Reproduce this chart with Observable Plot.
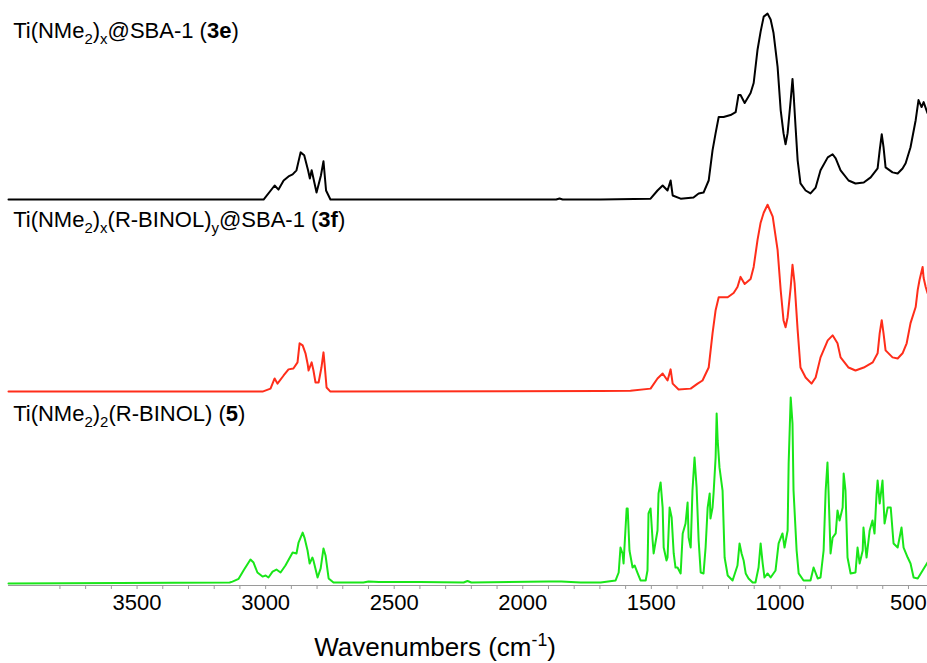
<!DOCTYPE html>
<html>
<head>
<meta charset="utf-8">
<script src="https://cdn.jsdelivr.net/npm/d3@7"></script>
<script src="https://cdn.jsdelivr.net/npm/@observablehq/plot@0.6"></script>
<style>
  html, body { margin: 0; padding: 0; background: #fff; }
  #chart { width: 927px; height: 663px; }
</style>
</head>
<body>
<div id="chart"></div>
<script>
// ---- data (wavenumber cm-1, relative intensity %) ----
const blackWn = [4000,3008,2965,2950,2930,2911,2895,2880,2864,2850,2835,2828,2821,2802,2785,2775,2765,2748,1870,1857,1845,1697,1503,1476,1456,1437,1425,1417,1386,1336,1316,1297,1277,1262,1250,1238,1219,1192,1172,1161,1153,1137,1114,1102,1087,1075,1063,1048,1036,1025,1009,997,986,978,970,958,951,947,939,931,920,900,881,861,842,814,795,783,764,733,706,674,647,620,612,604,597,589,562,542,523,511,492,472,461,449,441,426];
const blackAbs = [0,0,7.6,5.4,10.3,12.5,13.6,15.8,25.5,23.9,15.8,11.4,15.8,3.8,13,20.7,4.9,0,0,0.6,0,0,0.5,4.9,7.6,4.9,10.3,2.2,0.5,1.1,3.3,3.8,10.3,26.6,35.9,44.6,44.6,45.7,47.3,56.5,56.5,52.2,57.6,63,81,90.8,98.9,100.5,97.3,90.2,71.7,48.4,35.9,29.9,35.9,53.8,65.2,57.6,39.1,21.2,8.7,4.9,3.3,6.5,15.8,22.8,24.5,22.3,15.8,10.3,8.7,9.2,12,16.8,26.6,35.3,28.3,17.4,14.7,14.1,16.8,19.6,28.3,42.9,53.8,50,52.7,46.7];

const redWn = [4000,3012,2981,2965,2954,2930,2911,2892,2876,2868,2856,2845,2837,2833,2821,2814,2806,2794,2783,2775,2771,2763,2748,1697,1581,1503,1476,1456,1437,1425,1417,1394,1347,1320,1301,1277,1262,1250,1238,1203,1180,1165,1153,1137,1114,1102,1087,1075,1063,1048,1028,1009,997,986,978,970,958,951,943,931,920,900,877,861,842,814,795,776,764,733,706,674,639,620,612,604,597,589,562,542,523,507,492,472,464,457,445,441,433,426];
const redAbs = [0,0,1.6,7.1,4.3,8.7,12,12.5,15.8,26.1,25,20.7,15.2,11.4,15.8,11.4,4.9,4.9,13,21.2,15.2,2.2,0,0.3,0.5,1.6,7.1,9.8,6,12,4.3,1.1,1.6,4.3,6,13,31.5,44,51,51,53.3,56.5,62,58.2,60.9,67.4,82,91.3,96.7,101,94.6,76.6,54.9,38.6,34.8,40.2,56.5,68.5,58.7,33.2,13,7.6,4.3,7.6,18.5,27.7,30.4,26.1,18.5,13,11.4,13,15.8,20.7,31.5,38.6,31.5,22.3,18.5,17.9,20.7,26.1,37,45.7,55,60.3,67.4,61.4,56.5,53.3];

const greenWn = [4000,3140,3129,3105,3086,3059,3047,3032,3012,3000,2989,2973,2958,2942,2923,2895,2880,2872,2856,2849,2837,2829,2818,2814,2798,2786,2775,2767,2755,2736,2620,2600,2560,2400,2230,2215,2200,1900,1850,1775,1697,1639,1627,1620,1612,1608,1596,1592,1585,1573,1565,1553,1542,1522,1515,1511,1503,1495,1491,1476,1472,1464,1456,1452,1441,1437,1429,1421,1413,1406,1398,1386,1378,1367,1359,1355,1347,1340,1332,1324,1316,1308,1297,1289,1281,1273,1270,1262,1258,1250,1246,1242,1235,1223,1215,1203,1184,1165,1157,1149,1141,1133,1122,1106,1095,1083,1075,1067,1060,1048,1036,1017,1005,990,982,970,966,958,951,947,935,927,908,881,869,853,842,830,822,815,811,803,795,783,776,768,756,752,745,737,725,706,698,690,678,675,663,651,640,632,624,620,612,601,593,581,569,558,542,527,519,503,492,480,464,445,426];
const greenAbs = [-0.5,0,0.5,2,6.5,12.4,10.8,5.4,3.2,3.8,2.7,5.9,7,5.4,9.2,16.2,15.7,21.6,27,24.3,17.3,10.3,13.5,11.9,2.7,7.6,18.4,14.6,2.2,0,0,0.5,0.3,0.3,0,0.8,0,0.5,0.5,0,0,1.1,5.4,18.9,15.7,10.3,40,40,17.3,8.1,9.2,4.9,1.1,1.1,6.5,37.3,40,22.7,15.7,28.1,48.1,54.1,40.5,18.9,11.9,13.5,40.5,35.1,15.7,8.1,8.1,4.9,26.5,31.9,43.2,24.3,18.9,49.7,67.6,51.4,22.7,5.4,4.9,18.9,40.5,48.1,34.6,40.5,48.1,67.6,91.4,76.8,62.2,49.7,13.5,3.8,1.1,9.2,21.1,15.7,11.9,4.9,2.2,0,0,8.1,21.1,10.3,2.7,4.9,2.7,6.5,21.1,26.5,18.9,28.1,64.3,100,85.9,49.7,17.3,4.9,1.1,1.1,8.1,2.2,2.7,17.3,49.7,64.9,49.7,15.7,24.3,26.5,38.9,33.5,40.5,58.9,49.7,13.5,4.9,5.4,18.9,10.3,17.3,29.7,13.5,28.1,33.5,26.5,48.1,55.1,42.7,55.1,31.9,40.5,40.5,21.1,18.9,29.7,18.9,13.5,10.3,2.7,2.2,6.5,10.8];

const seriesNames = ["3e", "3f", "5"];
const seriesOffsets = [207, 103.2, 0];
const seriesColors = ["#000000", "#ff2d1a", "#19e619"];

const majorTicks = [3500, 3000, 2500, 2000, 1500, 1000, 500];
const minorTicks = d3.range(500, 3801, 100);

// title text segments: [text, style]
const titles = [
  [["Ti(NMe", ""], ["2", "sub"], [")", ""], ["x", "sub"], ["@SBA-1 (", ""], ["3e", "b"], [")", ""]],
  [["Ti(NMe", ""], ["2", "sub"], [")", ""], ["x", "sub"], ["(R-BINOL)", ""], ["y", "sub"], ["@SBA-1 (", ""], ["3f", "b"], [")", ""]],
  [["Ti(NMe", ""], ["2", "sub"], [")", ""], ["2", "sub"], ["(R-BINOL) (", ""], ["5", "b"], [")", ""]]
];
const titleRise = [87, 88.6, 87];
const axisLabel = [["Wavenumbers (cm", ""], ["-1", "sup"], [")", ""]];

// ---- build rows ----
const sets = [[blackWn, blackAbs], [redWn, redAbs], [greenWn, greenAbs]];
const rows = [];
sets.forEach(([w, a], k) => {
  w.forEach((x, i) => rows.push({series: seriesNames[k], wn: x, v: a[i] + seriesOffsets[k]}));
});

const yDomain = [-1.62, 314.6];

const chart = Plot.plot({
  width: 927,
  height: 663,
  marginLeft: 8,
  marginRight: 0,
  marginTop: 0,
  marginBottom: 78,
  style: {fontFamily: "'Liberation Sans', Arial, sans-serif", background: "#fff", color: "#000"},
  x: {domain: [4000, 426], label: null},
  y: {domain: yDomain, axis: null},
  color: {domain: seriesNames, range: seriesColors},
  marks: [
    Plot.ruleY([yDomain[0]], {stroke: "#9a9a9a", strokeWidth: 1.2}),
    Plot.axisX({ticks: minorTicks, tickSize: 4, tickFormat: () => "", stroke: "#9a9a9a", label: null}),
    Plot.axisX({ticks: majorTicks, tickSize: 0, tickPadding: 9, fontSize: 22, tickFormat: d => String(d), label: null, fill: "#000"}),
    Plot.line(rows, {x: "wn", y: "v", z: "series", stroke: "series", strokeWidth: 2, curve: "linear"})
  ]
});

document.getElementById("chart").appendChild(chart);

// ---- rich-text labels placed via the scales ----
const xs = chart.scale("x"), ys = chart.scale("y");
const svg = d3.select(chart);

function richText(parent, segs, x, y, size, anchor) {
  const t = parent.append("text")
    .attr("x", x).attr("y", y)
    .attr("font-size", size)
    .attr("fill", "#000")
    .attr("text-anchor", anchor || "start")
    .style("font-family", "'Liberation Sans', Arial, sans-serif");
  let shift = 0;
  segs.forEach(([s, kind]) => {
    const sp = t.append("tspan").text(s);
    let target = 0;
    if (kind === "sub") { target = size * 0.28; sp.attr("font-size", size * 0.68); }
    else if (kind === "sup") { target = -size * 0.38; sp.attr("font-size", size * 0.68); }
    else if (kind === "b") { sp.attr("font-weight", "bold"); }
    if (target !== shift) { sp.attr("dy", target - shift); shift = target; }
  });
  return t;
}

const g = svg.append("g");
titles.forEach((segs, k) => {
  richText(g, segs, xs.apply(3980), ys.apply(seriesOffsets[k] + titleRise[k]), 22, "start");
});
richText(g, axisLabel, xs.apply(2339), 656, 26, "middle");
</script>
</body>
</html>
